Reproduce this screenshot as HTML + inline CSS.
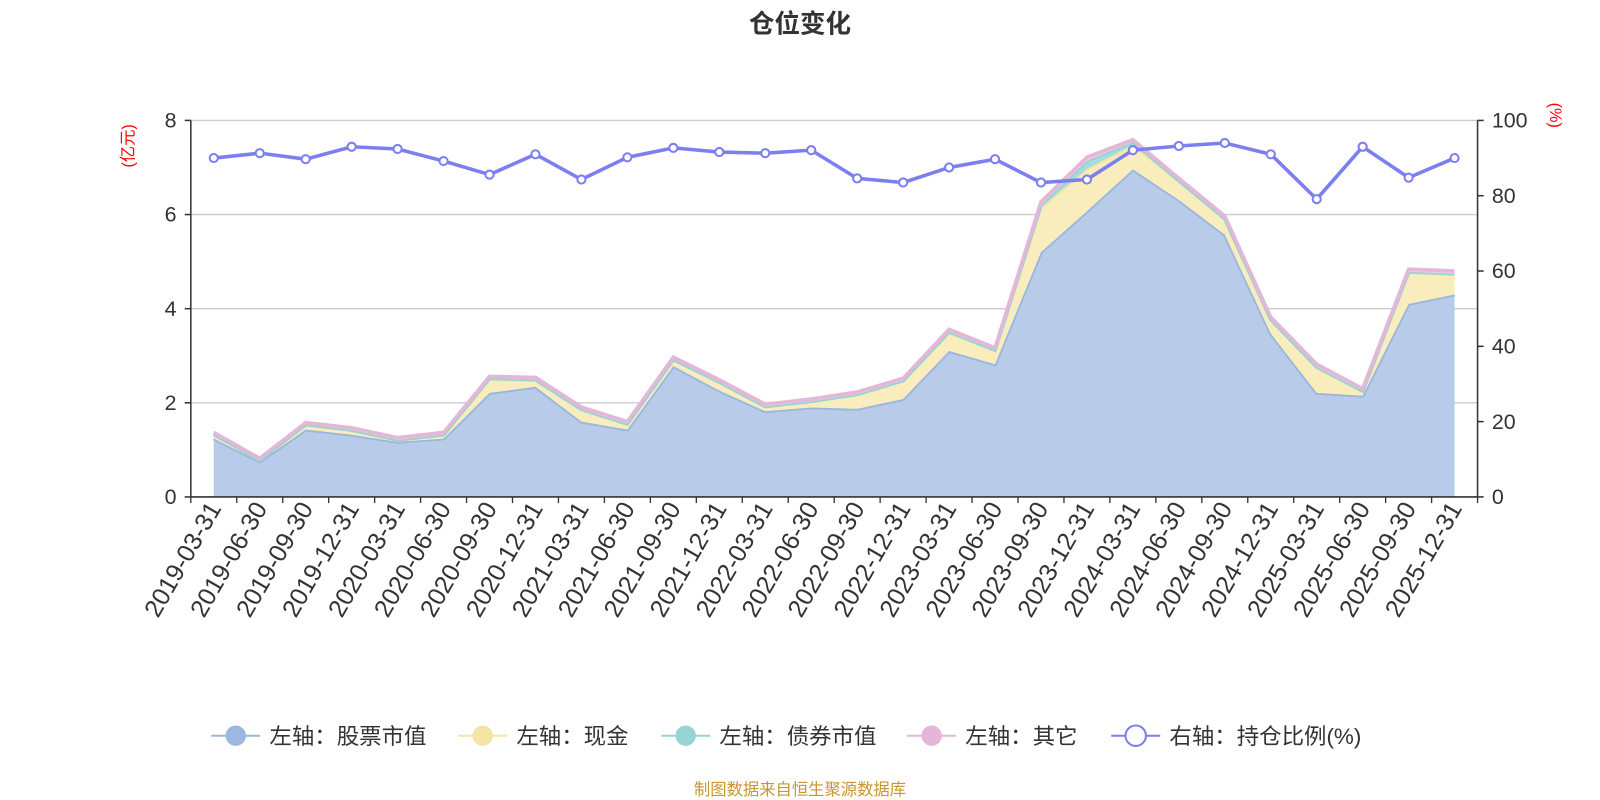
<!DOCTYPE html>
<html><head><meta charset="utf-8"><style>
html,body{margin:0;padding:0;background:#fff;}
svg{display:block;font-family:"Liberation Sans","Noto Sans CJK SC",sans-serif;}
</style></head><body>
<svg id="chart" width="1600" height="800" viewBox="0 0 1568 784" preserveAspectRatio="none" xmlns="http://www.w3.org/2000/svg">
<text x="784" y="32" text-anchor="middle" font-size="25" font-weight="bold" fill="#333">仓位变化</text>
<g id="grid"></g><g id="areas"></g><g id="axes"></g><g id="ratio"></g>
<text transform="translate(131,143) rotate(-90)" text-anchor="middle" font-size="16" fill="red">(亿元)</text>
<text transform="translate(1519,113) rotate(90)" text-anchor="middle" font-size="16" fill="red">(%)</text>
<g id="legend"></g>
<text x="784" y="779" text-anchor="middle" font-size="16" fill="#c9952f">制图数据来自恒生聚源数据库</text>
</svg>
<script>
const categories=["2019-03-31","2019-06-30","2019-09-30","2019-12-31","2020-03-31","2020-06-30","2020-09-30","2020-12-31","2021-03-31","2021-06-30","2021-09-30","2021-12-31","2022-03-31","2022-06-30","2022-09-30","2022-12-31","2023-03-31","2023-06-30","2023-09-30","2023-12-31","2024-03-31","2024-06-30","2024-09-30","2024-12-31","2025-03-31","2025-06-30","2025-09-30","2025-12-31"];
const stockValues=[1.24,0.75,1.43,1.32,1.17,1.24,2.21,2.34,1.6,1.43,2.78,2.26,1.82,1.9,1.87,2.08,3.1,2.82,5.2,6.07,6.96,6.31,5.57,3.47,2.21,2.15,4.1,4.3];
const cashValues=[0.08,0.03,0.1,0.1,0.04,0.08,0.28,0.15,0.26,0.12,0.14,0.18,0.1,0.13,0.31,0.39,0.38,0.3,0.95,0.9,0.52,0.4,0.34,0.3,0.55,0.1,0.68,0.44];
const bondValues=[0.01,0,0.01,0,0,0,0.03,0,0,0,0,0,0,0,0,0,0.03,0,0.05,0.17,0.06,0.01,0,0,0,0,0,0];
const otherValues=[0.04,0.04,0.04,0.05,0.05,0.05,0.04,0.05,0.05,0.05,0.05,0.05,0.05,0.05,0.05,0.05,0.05,0.05,0.07,0.08,0.05,0.05,0.06,0.05,0.06,0.05,0.06,0.06];
const ratioValues=[90,91.3,89.7,93,92.4,89.2,85.6,91,84.3,90.2,92.7,91.6,91.3,92.1,84.6,83.5,87.5,89.7,83.5,84.3,92.1,93.2,94,91,79.1,93,84.8,90];
const leftTicks=[0,2,4,6,8];
const rightTicks=[0,20,40,60,80,100];
const NS="http://www.w3.org/2000/svg";
const X0=187,X1=1448,YT=118,YB=487;
const n=categories.length,bw=(X1-X0)/n;
const xs=i=>X0+bw*(i+0.5);
const yl=v=>YB-(v/8)*(YB-YT);
const yr=v=>YB-(v/100)*(YB-YT);
function mk(tag,attrs,parent){const e=document.createElementNS(NS,tag);for(const k in attrs)e.setAttribute(k,attrs[k]);parent.appendChild(e);return e;}
const grid=document.getElementById('grid'),axes=document.getElementById('axes'),areas=document.getElementById('areas'),ratio=document.getElementById('ratio'),legend=document.getElementById('legend');
leftTicks.forEach(t=>{
  if(t>0){const g=mk('line',{x1:X0,x2:X1,y1:yl(t),y2:yl(t),stroke:'#ccc','stroke-width':1.3},grid);
  
  }
  mk('line',{x1:X0-6,x2:X0,y1:yl(t),y2:yl(t),stroke:'#333','stroke-width':1.5},axes);
  const tx=mk('text',{x:X0-14,y:yl(t)+7,'text-anchor':'end','font-size':21,fill:'#333'},axes);tx.textContent=t;
  
  
});
rightTicks.forEach(t=>{
  mk('line',{x1:X1,x2:X1+6,y1:yr(t),y2:yr(t),stroke:'#333','stroke-width':1.5},axes);
  const tx=mk('text',{x:X1+14,y:yr(t)+7,'font-size':21,fill:'#333'},axes);tx.textContent=t;
  
  
});
mk('line',{x1:X0,x2:X0,y1:YT,y2:YB,stroke:'#333','stroke-width':1.5},axes);
mk('line',{x1:X1,x2:X1,y1:YT,y2:YB,stroke:'#333','stroke-width':1.5},axes);
mk('line',{x1:X0,x2:X1,y1:YB,y2:YB,stroke:'#333','stroke-width':1.5},axes);
for(let i=0;i<=n;i++)mk('line',{x1:X0+bw*i,x2:X0+bw*i,y1:YB,y2:YB+6,stroke:'#333','stroke-width':1.3},axes);
categories.forEach((c,i)=>{
  const tx=mk('text',{transform:`translate(${xs(i)+8},${YB+11}) rotate(-60)`,'text-anchor':'end','font-size':24.5,fill:'#333'},axes);tx.textContent=c;
  
  
});
const series=[{v:stockValues,fill:'#b8cbe8',line:'#9ab5e0',name:'stock-area'},{v:cashValues,fill:'#f9edbd',line:'#f5e4a6',name:'cash-area'},{v:bondValues,fill:'#a6dcdc',line:'#96d3d3',name:'bond-area'},{v:otherValues,fill:'#ecc9e4',line:'#e4b6d8',name:'other-area'}];
let base=categories.map(()=>0);
series.forEach(s=>{
  const top=base.map((b,i)=>b+s.v[i]);
  const up=top.map((v,i)=>`${xs(i)},${yl(v)}`);
  const dn=base.map((v,i)=>`${xs(i)},${yl(v)}`).reverse();
  const p=mk('polygon',{points:up.concat(dn).join(' '),fill:s.fill},areas);
  
  
  const l=mk('polyline',{points:up.join(' '),fill:'none',stroke:s.line,'stroke-width':3.5},areas);
  
  
  base=top;
});
const rl=mk('polyline',{points:ratioValues.map((v,i)=>`${xs(i)},${yr(v)}`).join(' '),fill:'none',stroke:'#7b7ff0','stroke-width':3.5},ratio);


ratioValues.forEach((v,i)=>{
  const c=mk('circle',{cx:xs(i),cy:yr(v),r:4,fill:'#fff',stroke:'#7b7ff0','stroke-width':2},ratio);
  
  
});
const leg=[{x:207,t:'左轴：股票市值',c:'#9db7e0',f:'#9db7e0'},{x:449,t:'左轴：现金',c:'#f5e4a6',f:'#f5e4a6'},{x:648,t:'左轴：债券市值',c:'#96d3d3',f:'#96d3d3'},{x:889,t:'左轴：其它',c:'#e4b6d8',f:'#e4b6d8'},{x:1089,t:'右轴：持仓比例(%)',c:'#7b7ff0',f:'#fff'}];
leg.forEach(o=>{
  const g=mk('g',{},legend);
  
  
  mk('line',{x1:o.x,x2:o.x+48,y1:721,y2:721,stroke:o.c,'stroke-width':2},g);
  mk('circle',{cx:o.x+24,cy:721,r:10,fill:o.f,stroke:o.c,'stroke-width':o.f=='#fff'?2:0},g);
  const t=mk('text',{x:o.x+57,y:729,'font-size':22,fill:'#333'},g);t.textContent=o.t;
});
</script>
</body></html>
